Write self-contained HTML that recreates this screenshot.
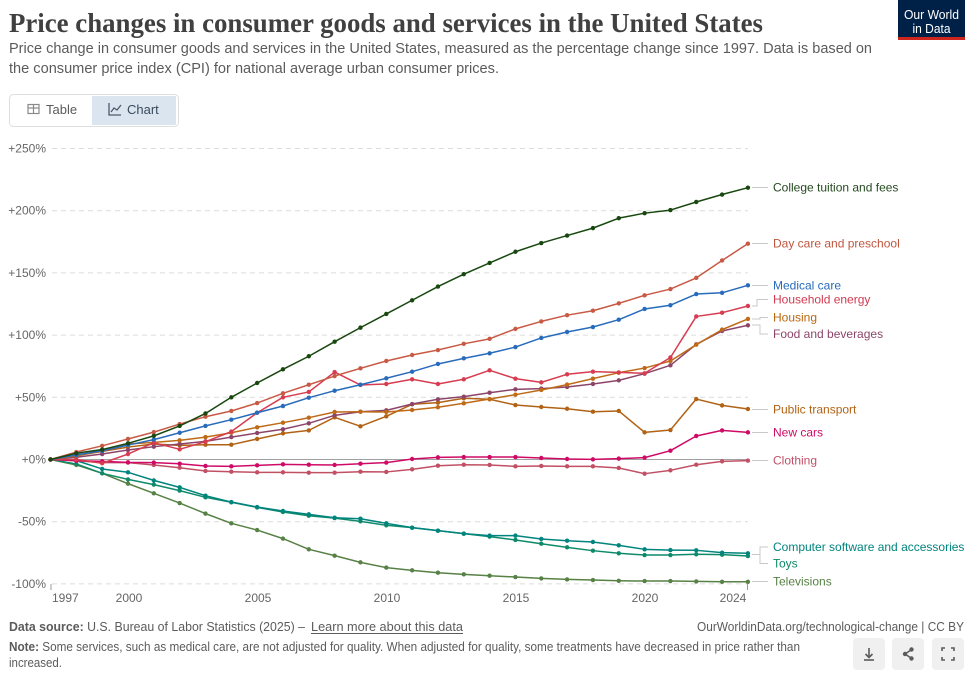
<!DOCTYPE html>
<html><head><meta charset="utf-8"><style>
html,body{margin:0;padding:0;background:#fff;}
svg{display:block;}
text{font-family:"Liberation Sans",sans-serif;}
</style></head><body>
<svg width="973" height="680" viewBox="0 0 973 680" xmlns="http://www.w3.org/2000/svg">
<defs>
<marker id="mCol" markerUnits="userSpaceOnUse" refX="0" refY="0" overflow="visible"><ellipse rx="0.0852" ry="1.768" fill="#18470F"/></marker>
<marker id="mDay" markerUnits="userSpaceOnUse" refX="0" refY="0" overflow="visible"><ellipse rx="0.0852" ry="1.768" fill="#C85A45"/></marker>
<marker id="mMed" markerUnits="userSpaceOnUse" refX="0" refY="0" overflow="visible"><ellipse rx="0.0852" ry="1.768" fill="#286BBB"/></marker>
<marker id="mHE" markerUnits="userSpaceOnUse" refX="0" refY="0" overflow="visible"><ellipse rx="0.0852" ry="1.768" fill="#D73C50"/></marker>
<marker id="mHou" markerUnits="userSpaceOnUse" refX="0" refY="0" overflow="visible"><ellipse rx="0.0852" ry="1.768" fill="#BE6A17"/></marker>
<marker id="mFood" markerUnits="userSpaceOnUse" refX="0" refY="0" overflow="visible"><ellipse rx="0.0852" ry="1.768" fill="#8C4569"/></marker>
<marker id="mPT" markerUnits="userSpaceOnUse" refX="0" refY="0" overflow="visible"><ellipse rx="0.0852" ry="1.768" fill="#B16214"/></marker>
<marker id="mNC" markerUnits="userSpaceOnUse" refX="0" refY="0" overflow="visible"><ellipse rx="0.0852" ry="1.768" fill="#CF0A66"/></marker>
<marker id="mCl" markerUnits="userSpaceOnUse" refX="0" refY="0" overflow="visible"><ellipse rx="0.0852" ry="1.768" fill="#C15065"/></marker>
<marker id="mTV" markerUnits="userSpaceOnUse" refX="0" refY="0" overflow="visible"><ellipse rx="0.0852" ry="1.768" fill="#578145"/></marker>
<marker id="mCS" markerUnits="userSpaceOnUse" refX="0" refY="0" overflow="visible"><ellipse rx="0.0852" ry="1.768" fill="#00847E"/></marker>
<marker id="mTo" markerUnits="userSpaceOnUse" refX="0" refY="0" overflow="visible"><ellipse rx="0.0852" ry="1.768" fill="#0E8A6A"/></marker>
</defs>

<!-- Title -->
<text x="9" y="32" style="font-family:'Liberation Serif',serif" font-size="27" font-weight="bold" fill="#404040" textLength="754" lengthAdjust="spacingAndGlyphs">Price changes in consumer goods and services in the United States</text>
<text x="9" y="53" font-size="15" fill="#5b5b5b" textLength="863" lengthAdjust="spacingAndGlyphs">Price change in consumer goods and services in the United States, measured as the percentage change since 1997. Data is based on</text>
<text x="9" y="73" font-size="15" fill="#5b5b5b" textLength="490" lengthAdjust="spacingAndGlyphs">the consumer price index (CPI) for national average urban consumer prices.</text>

<!-- Logo -->
<rect x="898" y="0" width="67" height="40" fill="#002147"/>
<rect x="898" y="37" width="67" height="3" fill="#ce261e"/>
<text x="931.5" y="19" font-size="12.5" fill="#fff" text-anchor="middle" textLength="55" lengthAdjust="spacingAndGlyphs">Our World</text>
<text x="931.5" y="33" font-size="12.5" fill="#fff" text-anchor="middle" textLength="38" lengthAdjust="spacingAndGlyphs">in Data</text>

<!-- Tabs -->
<rect x="9.5" y="94.5" width="169" height="32" rx="4" fill="#fff" stroke="#dedede"/>
<rect x="92" y="96" width="84" height="29" fill="#dbe5f0"/>
<g stroke="#8a8a8a" fill="none" stroke-width="1.2">
<rect x="28" y="104.5" width="11" height="9"/>
<line x1="28" y1="108" x2="39" y2="108"/>
<line x1="33.5" y1="104.5" x2="33.5" y2="113.5"/>
</g>
<text x="46" y="114" font-size="13" fill="#5b5b5b">Table</text>
<g stroke="#4a5a6c" fill="none" stroke-width="1.3">
<polyline points="109,103 109,115 121,115"/>
<polyline points="111,112 114,108 117,110 121,105"/>
</g>
<text x="127" y="114" font-size="13" fill="#3a4a5c">Chart</text>

<!-- Grid -->
<g stroke="#dcdcdc" stroke-width="1" stroke-dasharray="5,4">
<line x1="52" y1="148.5" x2="748" y2="148.5"/>
<line x1="52" y1="210.7" x2="748" y2="210.7"/>
<line x1="52" y1="272.9" x2="748" y2="272.9"/>
<line x1="52" y1="335.1" x2="748" y2="335.1"/>
<line x1="52" y1="397.3" x2="748" y2="397.3"/>
<line x1="52" y1="521.7" x2="748" y2="521.7"/>
<line x1="52" y1="583.9" x2="748" y2="583.9"/>
</g>
<line x1="50" y1="459.5" x2="748" y2="459.5" stroke="#a0a0a0" stroke-width="1"/>
<g font-size="12" fill="#666" text-anchor="end">
<text x="46" y="152.5">+250%</text>
<text x="46" y="214.7">+200%</text>
<text x="46" y="276.9">+150%</text>
<text x="46" y="339.1">+100%</text>
<text x="46" y="401.3">+50%</text>
<text x="46" y="463.5">+0%</text>
<text x="46" y="525.7">-50%</text>
<text x="46" y="587.9">-100%</text>
</g>
<g stroke="#999" stroke-width="1">
<line x1="51" y1="584" x2="51" y2="590"/>
<line x1="747.5" y1="584" x2="747.5" y2="590"/>
</g>
<g font-size="12" fill="#666">
<text x="52" y="602">1997</text>
<text x="129" y="602" text-anchor="middle">2000</text>
<text x="258" y="602" text-anchor="middle">2005</text>
<text x="387" y="602" text-anchor="middle">2010</text>
<text x="516" y="602" text-anchor="middle">2015</text>
<text x="645" y="602" text-anchor="middle">2020</text>
<text x="733" y="602" text-anchor="middle">2024</text>
</g>

<!-- Series -->
<g transform="translate(50.5,459.5) scale(25.83,-1.244)" fill="none" stroke-width="1.5" stroke-linejoin="round">
<polyline vector-effect="non-scaling-stroke" stroke="#578145" marker-start="url(#mTV)" marker-mid="url(#mTV)" marker-end="url(#mTV)" points="0,0 1,-4.4 2,-11.1 3,-19.4 4,-27.2 5,-35 6,-43.5 7,-51.3 8,-56.7 9,-63.6 10,-72.2 11,-77.3 12,-82.7 13,-86.9 14,-89.1 15,-91 16,-92.3 17,-93.4 18,-94.5 19,-95.6 20,-96.4 21,-96.9 22,-97.5 23,-97.7 24,-97.7 25,-98 26,-98.3 27,-98.3"/>
<polyline vector-effect="non-scaling-stroke" stroke="#0E8A6A" marker-start="url(#mTo)" marker-mid="url(#mTo)" marker-end="url(#mTo)" points="0,0 1,-3.6 2,-11.1 3,-16 4,-20.2 5,-25 6,-30.4 7,-34.4 8,-38.5 9,-42.2 10,-45.2 11,-47.1 12,-49.7 13,-52.9 14,-54.8 15,-57.2 16,-59.6 17,-62 18,-64.7 19,-67.7 20,-70.6 21,-73.3 22,-75.4 23,-76.8 24,-76.8 25,-76.2 26,-76.5 27,-77.6"/>
<polyline vector-effect="non-scaling-stroke" stroke="#00847E" marker-start="url(#mCS)" marker-mid="url(#mCS)" marker-end="url(#mCS)" points="0,0 1,-0.9 2,-7.6 3,-10.3 4,-16.8 5,-22.4 6,-29.1 7,-34.2 8,-38.2 9,-41.4 10,-44.1 11,-46.8 12,-47.6 13,-51.3 14,-54.8 15,-57.2 16,-59.6 17,-61.2 18,-61.2 19,-63.9 20,-65.3 21,-66.3 22,-69 23,-72.2 24,-72.8 25,-73 26,-74.9 27,-75.4"/>
<polyline vector-effect="non-scaling-stroke" stroke="#C15065" marker-start="url(#mCl)" marker-mid="url(#mCl)" marker-end="url(#mCl)" points="0,0 1,-1 2,-2.5 3,-2.5 4,-4.4 5,-6.6 6,-9.2 7,-9.8 8,-10.3 9,-10.3 10,-10.6 11,-10.6 12,-9.8 13,-10 14,-7.9 15,-5 16,-4.2 17,-4.4 18,-5.5 19,-5.2 20,-5.5 21,-5.5 22,-6.8 23,-11.4 24,-8.7 25,-4.2 26,-1.5 27,-0.9"/>
<polyline vector-effect="non-scaling-stroke" stroke="#CF0A66" marker-start="url(#mNC)" marker-mid="url(#mNC)" marker-end="url(#mNC)" points="0,0 1,-0.9 2,-1.5 3,-2.3 4,-2.5 5,-3.4 6,-5.2 7,-5.5 8,-4.7 9,-3.9 10,-4.2 11,-4.4 12,-3.4 13,-2.5 14,0.4 15,1.7 16,2 17,2 18,2 19,1.2 20,0.4 21,0.1 22,0.7 23,1.5 24,7.1 25,18.9 26,23.4 27,21.8"/>
<polyline vector-effect="non-scaling-stroke" stroke="#B16214" marker-start="url(#mPT)" marker-mid="url(#mPT)" marker-end="url(#mPT)" points="0,0 1,3 2,6.5 3,10 4,12.5 5,11.4 6,11.9 7,11.9 8,16.5 9,21 10,23.4 11,33.9 12,26.7 13,34.7 14,44.4 15,45.7 16,49.2 17,48.4 18,43.8 19,42.2 20,40.8 21,38.4 22,39 23,21.8 24,23.7 25,48.6 26,43.5 27,40.6"/>
<polyline vector-effect="non-scaling-stroke" stroke="#8C4569" marker-start="url(#mFood)" marker-mid="url(#mFood)" marker-end="url(#mFood)" points="0,0 1,1.8 2,4.4 3,7.6 4,10.3 5,12.5 6,14.6 7,18 8,21.3 9,24.3 10,29.1 11,35.5 12,38.4 13,39.5 14,44.6 15,48.4 16,50.5 17,53.7 18,56.4 19,57 20,58.3 21,60.7 22,63.6 23,69 24,75.7 25,92.6 26,103.3 27,107.9"/>
<polyline vector-effect="non-scaling-stroke" stroke="#BE6A17" marker-start="url(#mHou)" marker-mid="url(#mHou)" marker-end="url(#mHou)" points="0,0 1,2.8 2,7.6 3,12.5 4,13.8 5,15.4 6,18 7,21.5 8,25.9 9,29.6 10,33.6 11,38.2 12,38.4 13,38.2 14,39.8 15,42 16,45.2 17,48.6 18,52.1 19,55.9 20,60.2 21,65 22,69.8 23,73.5 24,79.2 25,92.3 26,104.4 27,113"/>
<polyline vector-effect="non-scaling-stroke" stroke="#D73C50" marker-start="url(#mHE)" marker-mid="url(#mHE)" marker-end="url(#mHE)" points="0,0 1,0 2,-3 3,4.4 4,13.5 5,8.2 6,14.3 7,22.4 8,37.6 9,50 10,54.3 11,70.3 12,59.9 13,60.7 14,64.5 15,60.7 16,64.5 17,71.7 18,65 19,62 20,68.5 21,70.6 22,70 23,69.3 24,82 25,115 26,118 27,123.4"/>
<polyline vector-effect="non-scaling-stroke" stroke="#286BBB" marker-start="url(#mMed)" marker-mid="url(#mMed)" marker-end="url(#mMed)" points="0,0 1,3.6 2,7 3,11.6 4,16 5,21.5 6,27 7,32 8,37.6 9,43 10,49.7 11,55.3 12,60.1 13,65.3 14,70.6 15,76.8 16,81.3 17,85.4 18,90.4 19,97.7 20,102.5 21,106.5 22,112.4 23,121 24,124 25,133 26,134 27,140"/>
<polyline vector-effect="non-scaling-stroke" stroke="#C85A45" marker-start="url(#mDay)" marker-mid="url(#mDay)" marker-end="url(#mDay)" points="0,0 1,6 2,11 3,16.5 4,22 5,28.5 6,34.4 7,39 8,45.4 9,53.2 10,60.1 11,67.1 12,73.3 13,79.2 14,84 15,88 16,93 17,97 18,105 19,111 20,116 21,119.6 22,125.5 23,132 24,137 25,146 26,160 27,173.5"/>
<polyline vector-effect="non-scaling-stroke" stroke="#18470F" marker-start="url(#mCol)" marker-mid="url(#mCol)" marker-end="url(#mCol)" points="0,0 1,5 2,8 3,13 4,19 5,27 6,37 7,50 8,61.5 9,72.5 10,83 11,94.7 12,106 13,117 14,128 15,139 16,149 17,158 18,167 19,174 20,180 21,186 22,194 23,198 24,200.5 25,207 26,213 27,218.5"/>
</g>

<!-- Connectors -->
<g stroke="#c8c8c8" stroke-width="1" fill="none">
<line x1="752" y1="187.5" x2="768" y2="187.5"/>
<line x1="752" y1="243.5" x2="768" y2="243.5"/>
<line x1="752" y1="285.5" x2="768" y2="285.5"/>
<polyline points="752,306 757,306 757,299.5 768,299.5"/>
<polyline points="752,319 760,319 760,317.5 768,317.5"/>
<polyline points="752,325 760,325 760,334 768,334"/>
<line x1="752" y1="409.5" x2="768" y2="409.5"/>
<line x1="752" y1="432.5" x2="768" y2="432.5"/>
<line x1="752" y1="460.5" x2="768" y2="460.5"/>
<polyline points="752,554.5 760,554.5"/>
<polyline points="768,547 760,547 760,563.5 768,563.5"/>
<line x1="752" y1="581.5" x2="768" y2="581.5"/>
</g>

<!-- Labels -->
<g font-size="12">
<text x="773" y="191.5" fill="#244a1e">College tuition and fees</text>
<text x="773" y="247.5" fill="#C0553F">Day care and preschool</text>
<text x="773" y="289.5" fill="#286BBB">Medical care</text>
<text x="773" y="303.5" fill="#D03A50">Household energy</text>
<text x="773" y="321.5" fill="#B8670F">Housing</text>
<text x="773" y="338" fill="#8C4569">Food and beverages</text>
<text x="773" y="413.5" fill="#B16214">Public transport</text>
<text x="773" y="436.5" fill="#CF0A66">New cars</text>
<text x="773" y="464.5" fill="#C15065">Clothing</text>
<text x="773" y="551" fill="#00847E">Computer software and accessories</text>
<text x="773" y="567.5" fill="#0E8A6A">Toys</text>
<text x="773" y="585.5" fill="#578145">Televisions</text>
</g>

<!-- Footer -->
<text x="9" y="631" font-size="13" fill="#5b5b5b" textLength="296" lengthAdjust="spacingAndGlyphs"><tspan font-weight="bold">Data source:</tspan> U.S. Bureau of Labor Statistics (2025) –</text>
<text x="311" y="631" font-size="13" fill="#5b5b5b" textLength="152" lengthAdjust="spacingAndGlyphs">Learn more about this data</text>
<line x1="311" y1="633.5" x2="463" y2="633.5" stroke="#5b5b5b" stroke-width="1"/>
<text x="697" y="631" font-size="13" fill="#5b5b5b" textLength="267" lengthAdjust="spacingAndGlyphs">OurWorldinData.org/technological-change | CC BY</text>
<text x="9" y="651" font-size="12.5" fill="#5b5b5b" textLength="791" lengthAdjust="spacingAndGlyphs"><tspan font-weight="bold">Note:</tspan> Some services, such as medical care, are not adjusted for quality. When adjusted for quality, some treatments have decreased in price rather than</text>
<text x="9" y="667" font-size="12.5" fill="#5b5b5b" textLength="53" lengthAdjust="spacingAndGlyphs">increased.</text>

<!-- Buttons -->
<rect x="853" y="638" width="32" height="32" rx="4" fill="#f0f0f0"/>
<rect x="892" y="638" width="32" height="32" rx="4" fill="#f0f0f0"/>
<rect x="932" y="638" width="32" height="32" rx="4" fill="#f0f0f0"/>
<g stroke="#5b5b5b" stroke-width="1.6" fill="none">
<line x1="869" y1="648" x2="869" y2="657"/>
<polyline points="865.5,654 869,657.5 872.5,654"/>
<line x1="864" y1="660" x2="874" y2="660"/>
<line x1="905" y1="654" x2="911" y2="650"/>
<line x1="905" y1="654" x2="911" y2="658"/>
<polyline points="942,651 942,648 945,648"/>
<polyline points="951,648 954,648 954,651"/>
<polyline points="942,657 942,660 945,660"/>
<polyline points="951,660 954,660 954,657"/>
</g>
<g fill="#5b5b5b">
<circle cx="905" cy="654" r="2.2"/>
<circle cx="911.5" cy="649.5" r="2.2"/>
<circle cx="911.5" cy="658.5" r="2.2"/>
</g>
</svg>
</body></html>
